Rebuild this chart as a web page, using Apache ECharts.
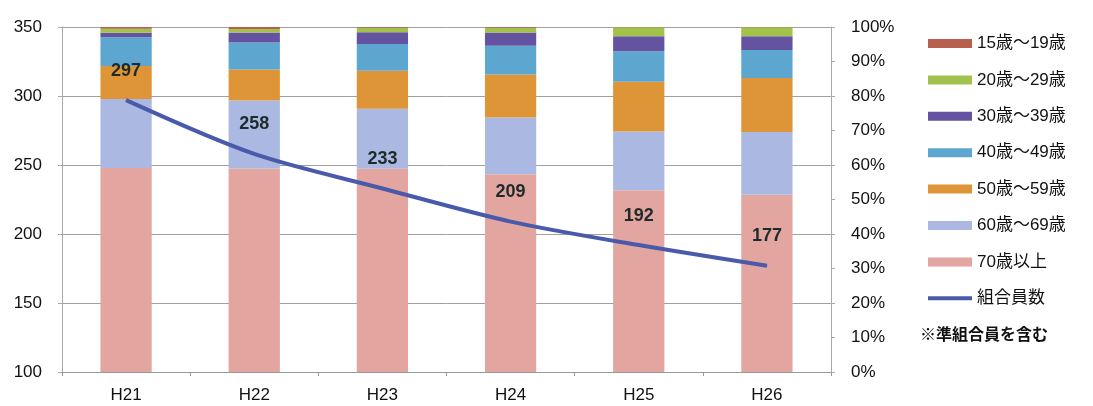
<!DOCTYPE html>
<html>
<head>
<meta charset="utf-8">
<script src="https://cdn.jsdelivr.net/npm/echarts@6/dist/echarts.min.js"></script>
<style>
html,body{margin:0;padding:0;background:#fff;}
#c{width:1093px;height:406px;}
</style>
</head>
<body>
<div id="c"></div>
<script>
const categories = ['H21','H22','H23','H24','H25','H26'];
// age-group shares (%) per year
const age15_19 = [0.5, 0.6, 0.2, 0.2, 0.1, 0.1];
const age20_29 = [1.2, 1.0, 1.3, 1.4, 2.6, 2.6];
const age30_39 = [1.3, 2.9, 3.4, 3.8, 4.3, 4.0];
const age40_49 = [8.3, 7.8, 7.8, 8.4, 8.9, 8.1];
const age50_59 = [9.6, 9.0, 11.0, 12.4, 14.4, 15.6];
const age60_69 = [20.0, 19.7, 17.4, 16.5, 17.0, 18.2];
const age70plus = [59.1, 59.0, 58.9, 57.3, 52.7, 51.4];
// union members
const members = [297, 258, 233, 209, 192, 177];
const leftTicks = [100, 150, 200, 250, 300, 350];

const F = "'Liberation Sans', 'Noto Sans CJK JP', sans-serif";
const ageSeries = [
  {name:'70歳以上', data:age70plus, color:'#e3a5a0'},
  {name:'60歳～69歳', data:age60_69, color:'#abb8e2'},
  {name:'50歳～59歳', data:age50_59, color:'#de9538'},
  {name:'40歳～49歳', data:age40_49, color:'#5da6cf'},
  {name:'30歳～39歳', data:age30_39, color:'#6353a0'},
  {name:'20歳～29歳', data:age20_29, color:'#a2c24b'},
  {name:'15歳～19歳', data:age15_19, color:'#b7604d'}
];

const chart = echarts.init(document.getElementById('c'), null, {renderer:'canvas'});
const series = ageSeries.map(s => ({
  name: s.name, type:'bar', stack:'age', yAxisIndex:1,
  barWidth:'40%', data:s.data, itemStyle:{color:s.color},
  emphasis:{disabled:true}
}));
series.push({
  name:'組合員数', type:'line', yAxisIndex:0, data:members,
  smooth:0.3, showSymbol:true, symbol:'circle', symbolSize:1, z:10,
  lineStyle:{color:'#4a5aab', width:4},
  itemStyle:{color:'#4a5aab'},
  label:{show:true, position:'top', distance:20, fontFamily:F, fontWeight:'bold', fontSize:18, color:'#1e2b2b'},
  labelLayout:{hideOverlap:false}
});

chart.setOption({
  animation:false,
  backgroundColor:'#fff',
  grid:{left:62, right:262, top:27, bottom:34},
  legend:{
    orient:'vertical', left:928, top:35, padding:0, itemWidth:44, itemHeight:9, itemGap:19.4,
    textStyle:{fontFamily:F, fontSize:17, color:'#111'},
    data:[
      {name:'15歳～19歳', icon:'rect'},
      {name:'20歳～29歳', icon:'rect'},
      {name:'30歳～39歳', icon:'rect'},
      {name:'40歳～49歳', icon:'rect'},
      {name:'50歳～59歳', icon:'rect'},
      {name:'60歳～69歳', icon:'rect'},
      {name:'70歳以上', icon:'rect'},
      {name:'組合員数', icon:'path://M0,0H44V4H0Z'}
    ]
  },
  graphic:[{
    type:'text', left:920, top:328,
    style:{text:'※準組合員を含む', font:'bold 16px ' + F, fill:'#111'}
  }],
  xAxis:{
    type:'category', data:categories,
    axisLine:{lineStyle:{color:'#999'}},
    axisTick:{show:true, length:4, lineStyle:{color:'#999'}},
    axisLabel:{fontFamily:F, fontSize:17, color:'#111', margin:15}
  },
  yAxis:[
    {type:'value', min:leftTicks[0], max:leftTicks[leftTicks.length-1], interval:50,
     axisLine:{show:true, lineStyle:{color:'#aaa'}},
     axisTick:{show:true, length:4, lineStyle:{color:'#aaa'}},
     axisLabel:{fontFamily:F, fontSize:17, color:'#111', margin:20},
     splitLine:{show:true, lineStyle:{color:'#a0a0a0', width:1}}},
    {type:'value', min:0, max:100, interval:10, position:'right',
     axisLine:{show:true, lineStyle:{color:'#aaa'}},
     axisTick:{show:true, length:4, lineStyle:{color:'#aaa'}},
     axisLabel:{fontFamily:F, fontSize:17, color:'#111', margin:20, formatter:'{value}%'},
     splitLine:{show:false}}
  ],
  series: series
});
</script>
</body>
</html>
